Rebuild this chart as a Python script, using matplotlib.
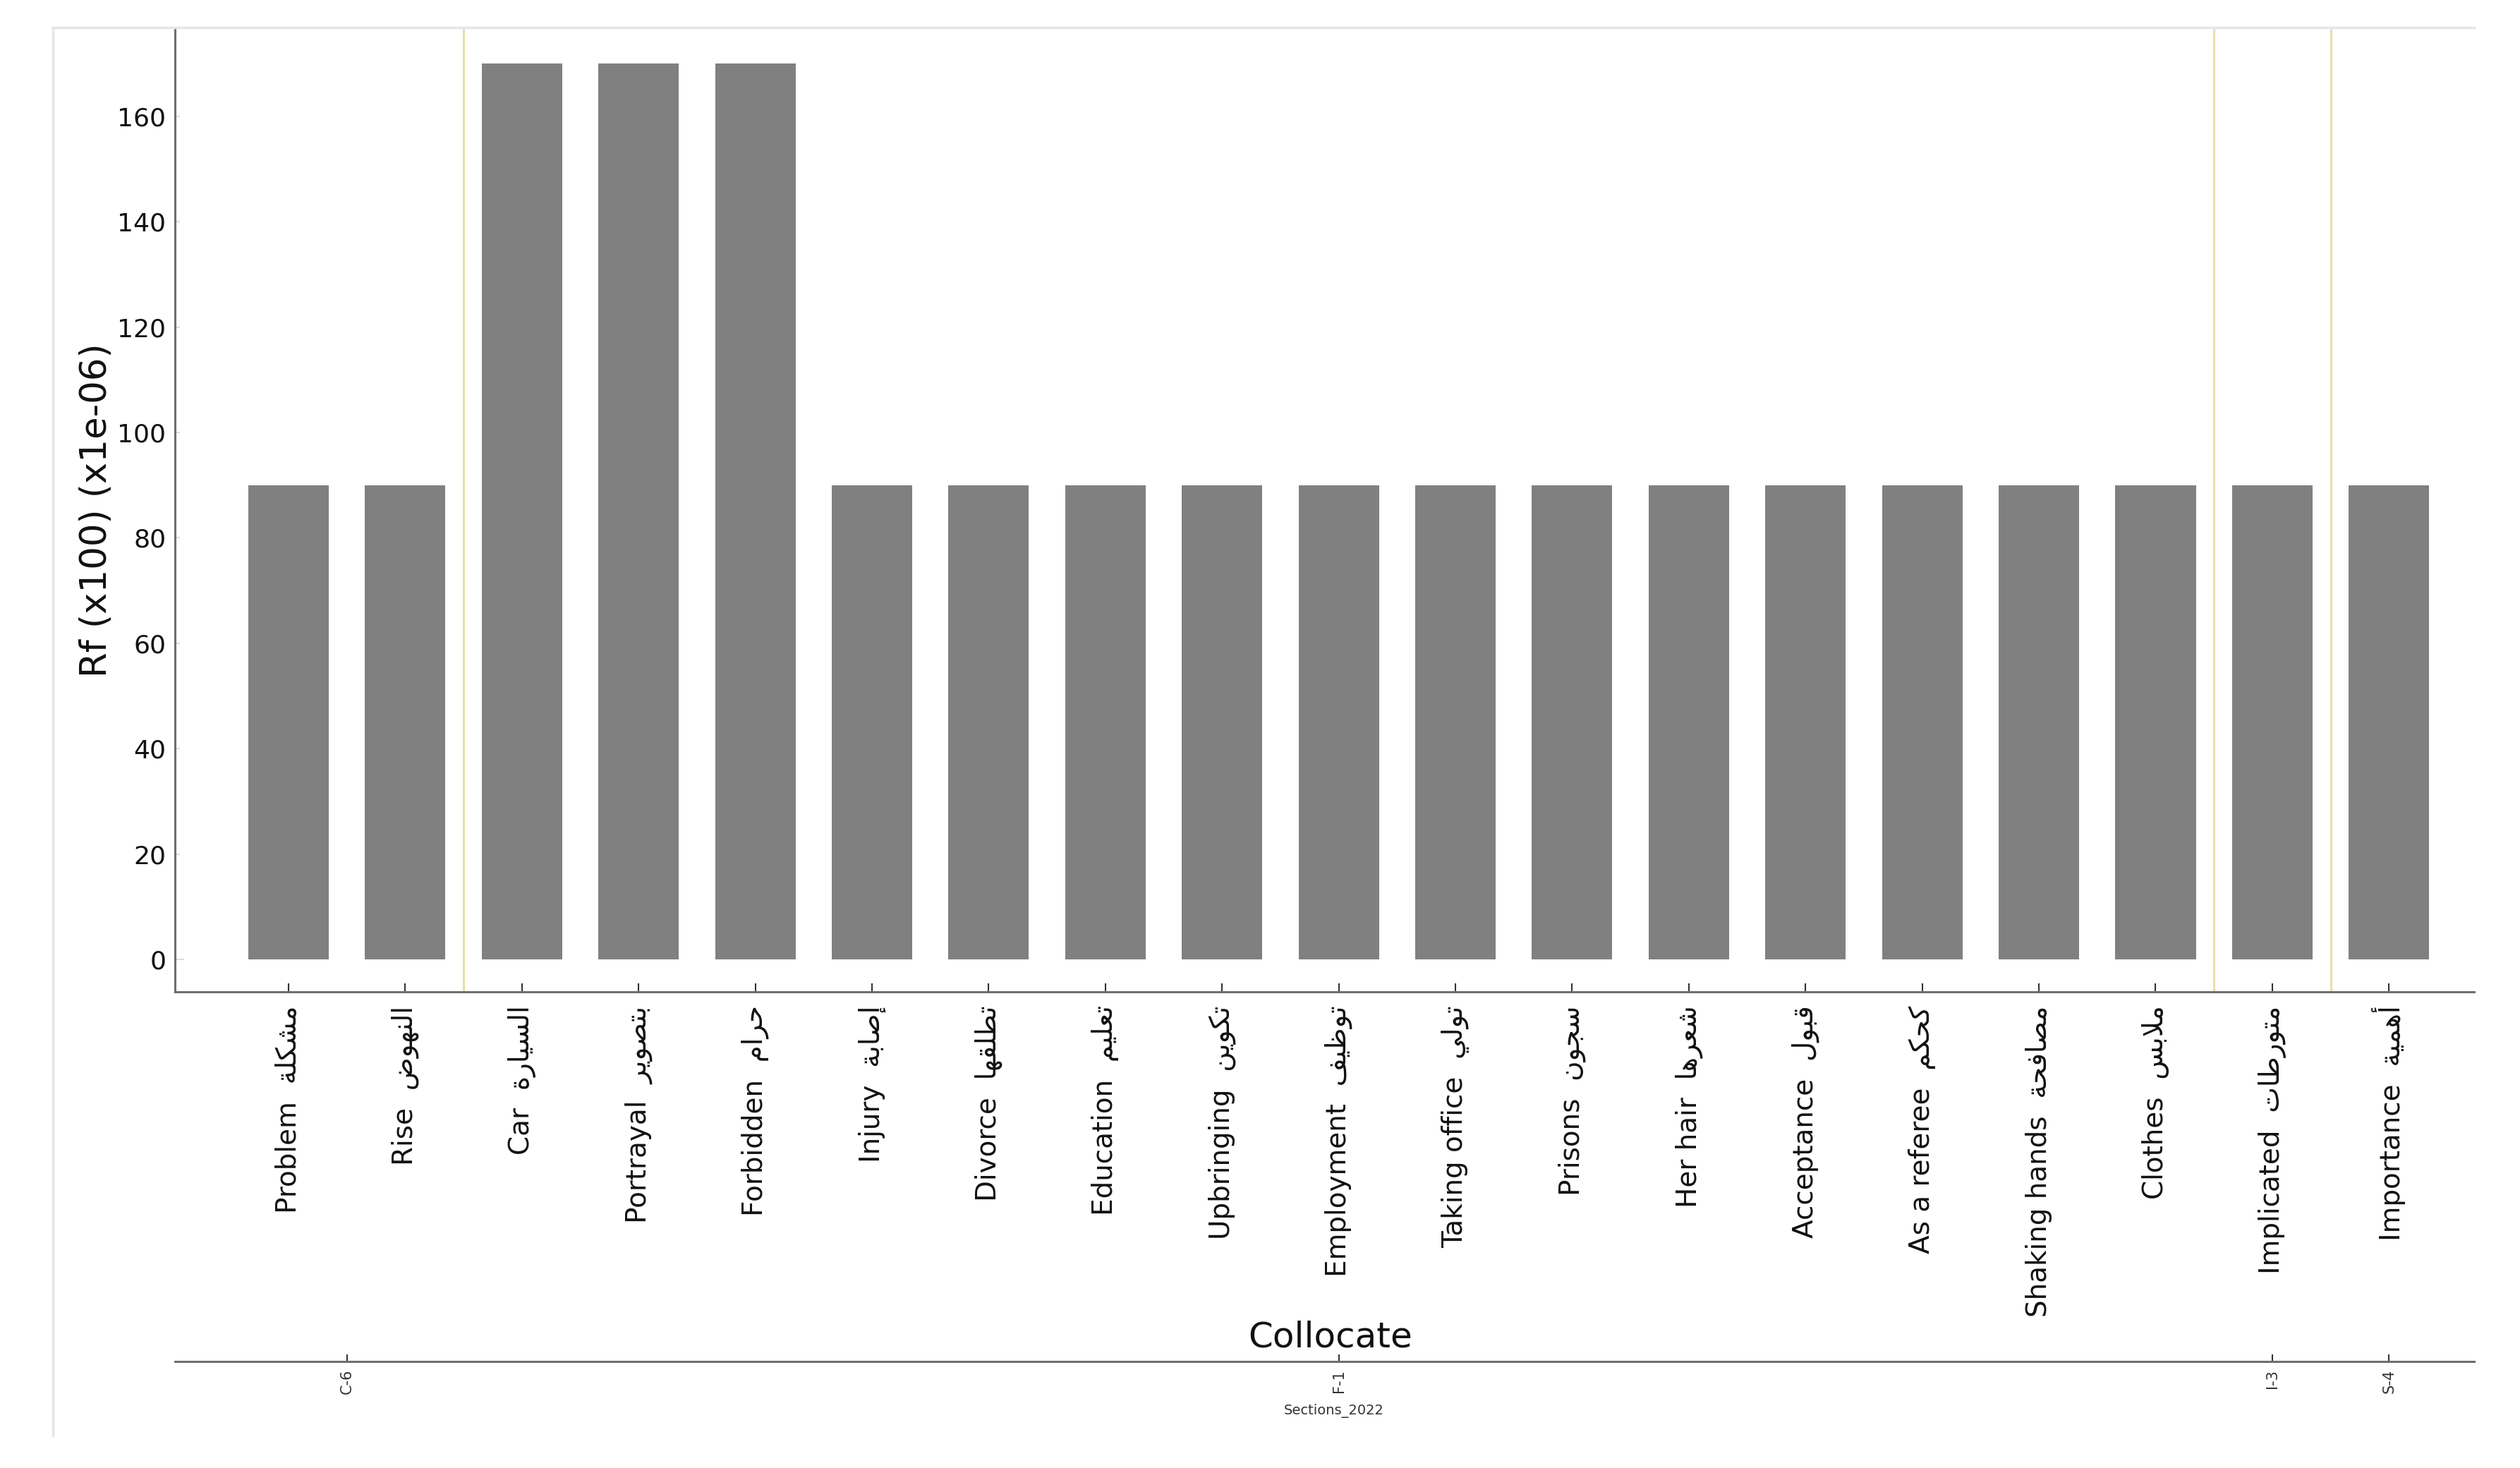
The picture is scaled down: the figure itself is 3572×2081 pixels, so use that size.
import matplotlib
matplotlib.use("Agg")
import matplotlib.pyplot as plt
from matplotlib.lines import Line2D
import numpy as np

plt.rcParams['font.family'] = ['DejaVu Sans']

english = ["Problem", "Rise", "Car", "Portrayal", "Forbidden", "Injury", "Divorce",
           "Education", "Upbringing", "Employment", "Taking office", "Prisons",
           "Her hair", "Acceptance", "As a referee", "Shaking hands", "Clothes",
           "Implicated", "Importance"]
arabic = ["مشكلة", "النهوض", "السيارة", "بتصوير", "حرام", "إصابة", "تطلقها",
          "تعليم", "تكوين", "توظيف", "تولي", "سجون", "شعرها", "قبول", "كحكم",
          "مصافحة", "ملابس", "متورطات", "أهمية"]
values = [90, 90, 170, 170, 170, 90, 90, 90, 90, 90, 90, 90, 90, 90, 90, 90, 90, 90, 90]
sections = ["C-6", "F-1", "I-3", "S-4"]
section_sizes = [2, 15, 1, 1]
yticks = [0, 20, 40, 60, 80, 100, 120, 140, 160]

FORMS = {
    'ا': ('\uFE8D', '\uFE8E', None, None),
    'أ': ('\uFE83', '\uFE84', None, None),
    'إ': ('\uFE87', '\uFE88', None, None),
    'ب': ('\uFE8F', '\uFE90', '\uFE91', '\uFE92'),
    'ة': ('\uFE93', '\uFE94', None, None),
    'ت': ('\uFE95', '\uFE96', '\uFE97', '\uFE98'),
    'ج': ('\uFE9D', '\uFE9E', '\uFE9F', '\uFEA0'),
    'ح': ('\uFEA1', '\uFEA2', '\uFEA3', '\uFEA4'),
    'ر': ('\uFEAD', '\uFEAE', None, None),
    'س': ('\uFEB1', '\uFEB2', '\uFEB3', '\uFEB4'),
    'ش': ('\uFEB5', '\uFEB6', '\uFEB7', '\uFEB8'),
    'ص': ('\uFEB9', '\uFEBA', '\uFEBB', '\uFEBC'),
    'ض': ('\uFEBD', '\uFEBE', '\uFEBF', '\uFEC0'),
    'ط': ('\uFEC1', '\uFEC2', '\uFEC3', '\uFEC4'),
    'ظ': ('\uFEC5', '\uFEC6', '\uFEC7', '\uFEC8'),
    'ع': ('\uFEC9', '\uFECA', '\uFECB', '\uFECC'),
    'ف': ('\uFED1', '\uFED2', '\uFED3', '\uFED4'),
    'ق': ('\uFED5', '\uFED6', '\uFED7', '\uFED8'),
    'ك': ('\uFED9', '\uFEDA', '\uFEDB', '\uFEDC'),
    'ل': ('\uFEDD', '\uFEDE', '\uFEDF', '\uFEE0'),
    'م': ('\uFEE1', '\uFEE2', '\uFEE3', '\uFEE4'),
    'ن': ('\uFEE5', '\uFEE6', '\uFEE7', '\uFEE8'),
    'ه': ('\uFEE9', '\uFEEA', '\uFEEB', '\uFEEC'),
    'و': ('\uFEED', '\uFEEE', None, None),
    'ي': ('\uFEF1', '\uFEF2', '\uFEF3', '\uFEF4'),
}
LAM_ALEF = {'ا': ('\uFEFB', '\uFEFC'), 'أ': ('\uFEF7', '\uFEF8'), 'إ': ('\uFEF9', '\uFEFA')}


def shape(word):
    units = []
    i = 0
    while i < len(word):
        c = word[i]
        if c == 'ل' and i + 1 < len(word) and word[i + 1] in LAM_ALEF:
            iso, fin = LAM_ALEF[word[i + 1]]
            units.append((iso, fin, None, None))
            i += 2
        else:
            units.append(FORMS[c])
            i += 1
    out = []
    for k, f in enumerate(units):
        prev = k > 0 and units[k - 1][2] is not None
        nxt = k + 1 < len(units) and f[2] is not None
        if prev and nxt:
            g = f[3]
        elif prev:
            g = f[1]
        elif nxt:
            g = f[2]
        else:
            g = f[0]
        out.append(g)
    return ''.join(reversed(out))


labels = [e + "  " + shape(a) for e, a in zip(english, arabic)]

W, H = 3572, 2081
fig = plt.figure(figsize=(W / 100, H / 100), dpi=100)

# light frame (left and top edges)
fig.add_artist(Line2D([74.5 / W, 74.5 / W], [1 - 39 / H, 1 - 2035 / H], color='#e6e6e6', lw=2.5))
fig.add_artist(Line2D([74.5 / W, 3507 / W], [1 - 39 / H, 1 - 39 / H], color='#e6e6e6', lw=2.5))

ax_l, ax_r, ax_t, ax_b = 248, 3507, 41, 1406
ax = fig.add_axes([ax_l / W, 1 - ax_b / H, (ax_r - ax_l) / W, (ax_b - ax_t) / H])

x = np.arange(len(values))
ax.bar(x, values, width=0.69, color='#808080', zorder=2)
ax.set_xlim(-0.973, 18.73)
ax.set_ylim(-6.16, 176.6)

# section boundaries
bounds = np.cumsum(section_sizes)[:-1] - 0.5
for b in bounds:
    ax.axvline(b, color='#e4e0a6', lw=2.2, zorder=1)

for s in ['top', 'right']:
    ax.spines[s].set_visible(False)
for s in ['left', 'bottom']:
    ax.spines[s].set_color('#6e6e6e')
    ax.spines[s].set_linewidth(2.2)

ax.set_yticks(yticks)
ax.set_yticklabels([str(v) for v in yticks], fontsize=26, color='#111111')
ax.tick_params(axis='y', direction='in', length=5, width=1.5, color='#dddddd', pad=9)
t0 = ax.yaxis.get_major_ticks()[0]
t0.tick1line.set_color('#333333')
t0.tick1line.set_markersize(9)

ax.set_xticks(x)
ax.set_xticklabels(labels, rotation=90, fontsize=28, color='#111111', va='top', ha='center')
ax.tick_params(axis='x', direction='in', length=9, width=1.5, color='#333333', pad=14)

fig.text(137 / W, 1 - 723 / H, "Rf (x100) (x1e-06)", rotation=90, fontsize=37,
         ha='center', va='center', color='#111111')
fig.text(1886 / W, 1 - 1895 / H, "Collocate", fontsize=36, ha='center', va='center',
         color='#111111')

# section axis
sec_y = 1930
ax2 = fig.add_axes([ax_l / W, 1 - sec_y / H, (ax_r - ax_l) / W, 0.0005])
ax2.set_xlim(ax.get_xlim())
ax2.set_ylim(0, 1)
for s in ['top', 'right', 'left']:
    ax2.spines[s].set_visible(False)
ax2.spines['bottom'].set_color('#6e6e6e')
ax2.spines['bottom'].set_linewidth(2.2)
ax2.set_yticks([])
starts = np.concatenate([[0], np.cumsum(section_sizes)[:-1]])
centers = starts + (np.array(section_sizes) - 1) / 2
ax2.set_xticks(centers)
ax2.set_xticklabels(sections, rotation=90, fontsize=15, color='#333333', va='top')
ax2.tick_params(axis='x', direction='in', length=7, width=1.5, color='#333333', pad=8)
ax2.patch.set_visible(False)

fig.text(1891 / W, 1 - 2000 / H, "Sections_2022", fontsize=14, ha='center', va='center',
         color='#333333')

fig.savefig("out.png", dpi=100)
